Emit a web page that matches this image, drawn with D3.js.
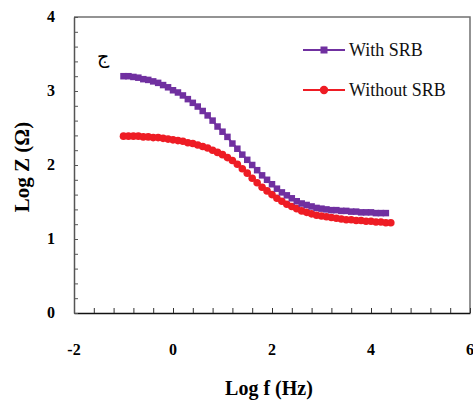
<!DOCTYPE html>
<html>
<head>
<meta charset="utf-8">
<script src="https://cdn.jsdelivr.net/npm/d3@7"></script>
<style>
  body { margin: 0; background: #fff; }
</style>
</head>
<body>
<div id="chart"></div>
<script>
// log f values (Hz), one per point
var withF = [-1.0,-0.9,-0.8,-0.7,-0.6,-0.5,-0.4,-0.3,-0.2,-0.1,0.0,0.1,0.2,0.3,0.4,0.5,0.6,0.7,0.8,0.9,
  1.0,1.1,1.2,1.3,1.4,1.5,1.6,1.7,1.8,1.9,2.0,2.1,2.2,2.3,2.4,2.5,2.6,2.7,2.8,2.9,
  3.0,3.1,3.2,3.3,3.4,3.5,3.6,3.7,3.8,3.9,4.0,4.1,4.2,4.3];
var withZ = [3.20,3.20,3.19,3.18,3.16,3.15,3.13,3.11,3.08,3.05,3.01,2.98,2.94,2.89,2.84,2.79,2.73,2.67,2.60,2.52,
  2.45,2.38,2.29,2.22,2.14,2.07,2.00,1.93,1.86,1.80,1.74,1.68,1.63,1.59,1.55,1.51,1.48,1.46,1.44,1.42,
  1.41,1.40,1.39,1.39,1.38,1.38,1.37,1.37,1.36,1.36,1.36,1.35,1.35,1.35];

var withoutF = [-1.0,-0.9,-0.8,-0.7,-0.6,-0.5,-0.4,-0.3,-0.2,-0.1,0.0,0.1,0.2,0.3,0.4,0.5,0.6,0.7,0.8,0.9,
  1.0,1.1,1.2,1.3,1.4,1.5,1.6,1.7,1.8,1.9,2.0,2.1,2.2,2.3,2.4,2.5,2.6,2.7,2.8,2.9,
  3.0,3.1,3.2,3.3,3.4,3.5,3.6,3.7,3.8,3.9,4.0,4.1,4.2,4.3,4.4];
var withoutZ = [2.39,2.39,2.39,2.39,2.38,2.38,2.37,2.37,2.36,2.35,2.34,2.33,2.32,2.30,2.29,2.27,2.25,2.23,2.20,2.17,
  2.14,2.10,2.06,2.01,1.95,1.89,1.82,1.76,1.70,1.65,1.60,1.55,1.51,1.47,1.44,1.41,1.38,1.36,1.34,1.32,
  1.31,1.30,1.29,1.28,1.27,1.26,1.26,1.25,1.25,1.24,1.24,1.23,1.23,1.22,1.22];

var xTicks = [-2, 0, 2, 4, 6];
var yTicks = [0, 1, 2, 3, 4];
var seriesNames = ["With SRB", "Without SRB"];

function createChart() {
  var width = 473, height = 400;
  var margin = {top: 17, right: 3, bottom: 87, left: 74};
  var visWidth = width - margin.left - margin.right;
  var visHeight = height - margin.top - margin.bottom;
  var serif = "'Liberation Serif', 'Times New Roman', Times, serif";

  var purple = "#7030a0", red = "#ee1c24";

  var x = d3.scaleLinear().domain([-2, 6]).range([0, visWidth]);
  var y = d3.scaleLinear().domain([0, 4]).range([visHeight, 0]);

  var svg = d3.select("#chart").append("svg")
      .attr("width", width)
      .attr("height", height)
      .attr("font-family", serif);

  var g = svg.append("g")
      .attr("transform", `translate(${margin.left},${margin.top})`);

  // frame (top and right)
  g.append("path")
      .attr("d", `M0,0H${visWidth}V${visHeight}`)
      .attr("fill", "none")
      .attr("stroke", "#707070")
      .attr("stroke-width", 1.5);

  // minor + major ticks, pointing inward
  var xAxis = g.append("g")
      .attr("transform", `translate(0,${visHeight})`)
      .call(d3.axisBottom(x).tickValues(d3.range(-2, 6.01, 0.4)).tickSizeInner(-5).tickSizeOuter(0).tickFormat(""));
  xAxis.select(".domain").attr("stroke", "#111").attr("stroke-width", 1.5);
  xAxis.selectAll(".tick line").attr("stroke", "#333");

  var yAxis = g.append("g")
      .call(d3.axisLeft(y).tickValues(d3.range(0, 4.01, 0.2)).tickSizeInner(-4).tickSizeOuter(0).tickFormat(""));
  yAxis.select(".domain").attr("stroke", "#555").attr("stroke-width", 1.5);
  yAxis.selectAll(".tick line").attr("stroke", "#555");

  // tick labels
  g.selectAll(".xlab").data(xTicks).join("text")
      .attr("x", d => x(d))
      .attr("y", visHeight + 42)
      .attr("text-anchor", "middle")
      .attr("font-family", serif)
      .attr("font-size", 16)
      .attr("font-weight", "bold")
      .text(d => d);

  g.selectAll(".ylab").data(yTicks).join("text")
      .attr("x", -19)
      .attr("y", d => y(d) + 5)
      .attr("text-anchor", "end")
      .attr("font-family", serif)
      .attr("font-size", 16)
      .attr("font-weight", "bold")
      .text(d => d);

  // axis titles
  svg.append("text")
      .attr("x", 269)
      .attr("y", 395)
      .attr("text-anchor", "middle")
      .attr("font-family", serif)
      .attr("font-size", 20)
      .attr("font-weight", "bold")
      .text("Log f (Hz)");

  svg.append("text")
      .attr("transform", "translate(29,167) rotate(-90)")
      .attr("text-anchor", "middle")
      .attr("font-family", serif)
      .attr("font-size", 21)
      .attr("font-weight", "bold")
      .text("Log Z (Ω)");

  // panel letter
  g.append("text")
      .attr("x", 23)
      .attr("y", 46)
      .attr("font-size", 19)
      .attr("font-family", "'DejaVu Serif', 'DejaVu Sans', serif")
      .text("ج");

  var line = d3.line().x(d => x(d[0])).y(d => y(d[1]));

  var withData = withF.map((f, i) => [f, withZ[i]]);
  var withoutData = withoutF.map((f, i) => [f, withoutZ[i]]);

  // series without SRB
  g.append("path")
      .datum(withoutData)
      .attr("d", line)
      .attr("fill", "none")
      .attr("stroke", red)
      .attr("stroke-width", 2);
  g.selectAll(".dot").data(withoutData).join("circle")
      .attr("cx", d => x(d[0]))
      .attr("cy", d => y(d[1]))
      .attr("r", 3.8)
      .attr("fill", red);

  // series with SRB
  g.append("path")
      .datum(withData)
      .attr("d", line)
      .attr("fill", "none")
      .attr("stroke", purple)
      .attr("stroke-width", 2);
  var s = 6.5;
  g.selectAll(".sq").data(withData).join("rect")
      .attr("x", d => x(d[0]) - s / 2)
      .attr("y", d => y(d[1]) - s / 2)
      .attr("width", s)
      .attr("height", s)
      .attr("fill", purple);

  // legend
  var legend = svg.append("g");
  var colors = [purple, red];
  seriesNames.forEach(function(name, i) {
    var ly = 50 + i * 40;
    legend.append("line")
        .attr("x1", 303).attr("x2", 345)
        .attr("y1", ly).attr("y2", ly)
        .attr("stroke", colors[i])
        .attr("stroke-width", 2);
    if (i === 0) {
      legend.append("rect")
          .attr("x", 324 - 3.5).attr("y", ly - 3.5)
          .attr("width", 7).attr("height", 7)
          .attr("fill", colors[i]);
    } else {
      legend.append("circle")
          .attr("cx", 324).attr("cy", ly)
          .attr("r", 4.2)
          .attr("fill", colors[i]);
    }
    legend.append("text")
        .attr("x", 349)
        .attr("y", ly + 6)
        .attr("font-family", serif)
        .attr("font-size", 18)
        .attr("fill", "#111")
        .text(name);
  });
}

window.onload = createChart;
</script>
</body>
</html>
